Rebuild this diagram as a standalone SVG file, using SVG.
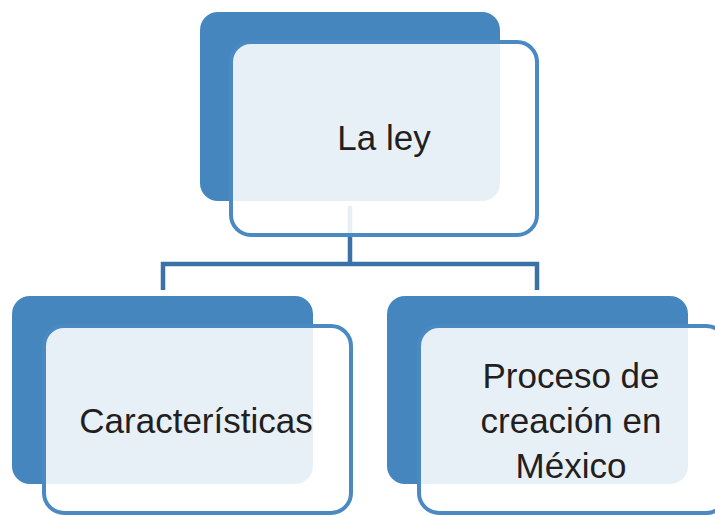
<svg xmlns="http://www.w3.org/2000/svg" width="715" height="515" viewBox="0 0 715 515">
<style>
.back{fill:#4686be}
.front{fill:#ffffff;fill-opacity:0.88;stroke:#4a89c1;stroke-width:4}
.conn{fill:none;stroke:#3a71a7;stroke-width:4.5;stroke-linejoin:miter}
.lbl{font-family:"Liberation Sans",Arial,sans-serif;font-size:35px;fill:#231f20;text-anchor:middle}
</style>
<rect width="715" height="515" fill="#ffffff"/>
<g id="connectors">
<path class="conn" d="M350,206 V264 M163,290 V264 H537 V290"/>
</g>
<g id="node-laley">
<rect class="back" x="200" y="12" width="300" height="189" rx="18"/>
<rect class="front" x="231" y="42" width="306" height="193" rx="20"/>
<text class="lbl" x="384" y="150">La ley</text>
</g>
<g id="node-caracteristicas">
<rect class="back" x="12" y="296" width="301" height="188" rx="18"/>
<rect class="front" x="44" y="326" width="307" height="187" rx="20"/>
<text class="lbl" x="196" y="433">Características</text>
</g>
<g id="node-proceso">
<rect class="back" x="387" y="296" width="301" height="188" rx="18"/>
<rect class="front" x="419" y="326" width="307" height="187" rx="20"/>
<text class="lbl" x="571" y="388">Proceso de</text>
<text class="lbl" x="571" y="433">creación en</text>
<text class="lbl" x="571" y="478">México</text>
</g>
</svg>
